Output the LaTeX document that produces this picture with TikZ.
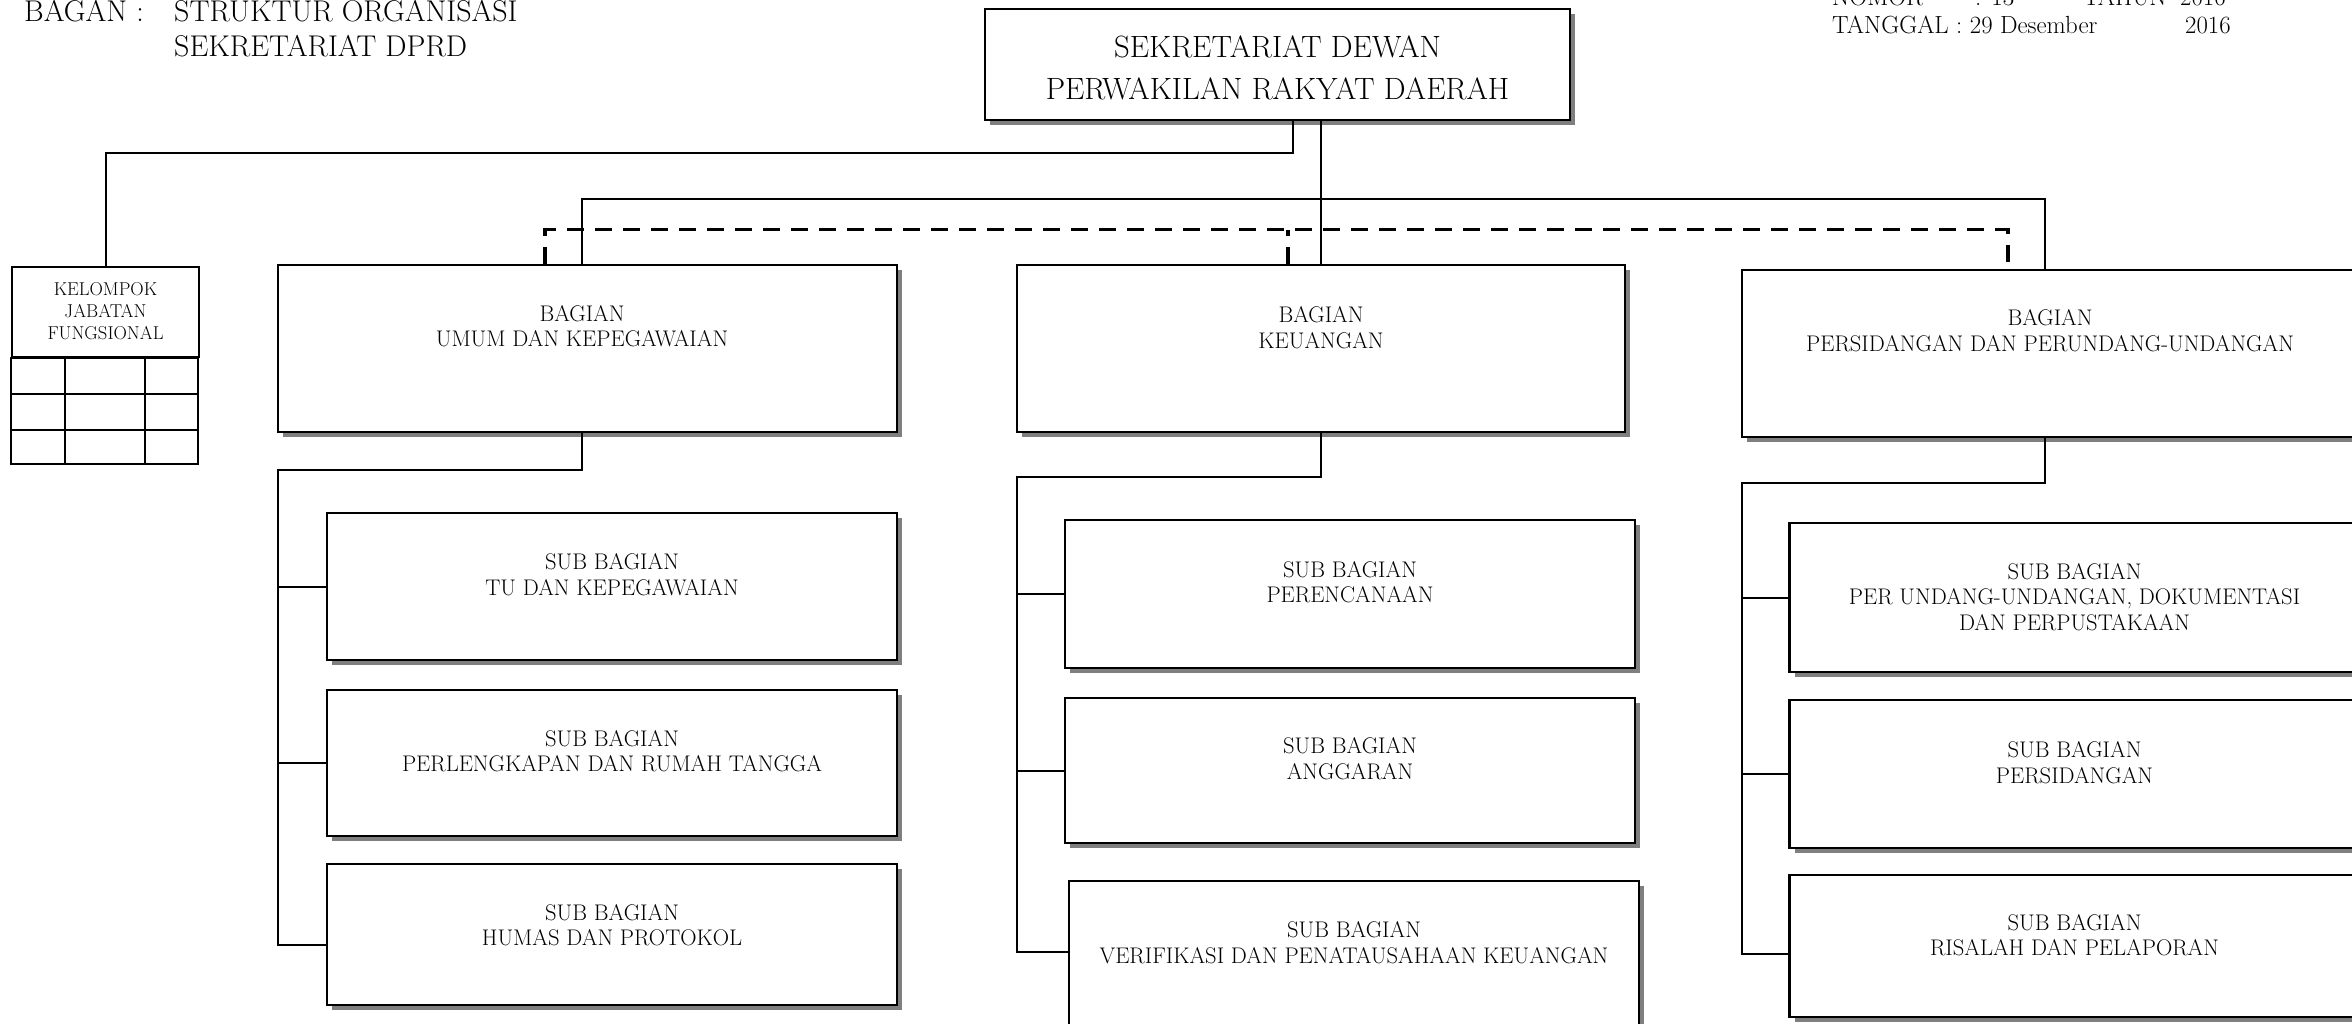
\documentclass[tikz,border=0pt]{standalone}
\usetikzlibrary{positioning, shadows}

\definecolor{shgray}{HTML}{7F7F7F}

\newcommand{\hdfont}{\fontsize{30}{35}\selectfont}
\newcommand{\nofont}{\fontsize{24.8}{28}\selectfont}
\newcommand{\topfont}{\fontsize{30.8}{42}\selectfont}
\newcommand{\unitfont}{\fontsize{22.6}{25.5}\selectfont}
\newcommand{\jfgfont}{\fontsize{18.6}{22}\selectfont}

\tikzset{
  orgbox/.style={draw, line width=2.6pt, fill=white, inner sep=0pt,
    general shadow={fill=shgray, shadow xshift=5pt, shadow yshift=-5pt}},
  bagbox/.style={orgbox, minimum height=167pt},
  subbox/.style={orgbox, minimum width=570pt},
  unittxt/.style={align=center, inner sep=0pt, font=\unitfont},
  conn/.style={line width=2pt},
  koord/.style={line width=3.5pt, dash pattern=on 17pt off 11pt},
  jfggrid/.style={line width=2pt},
  hdtxt/.style={inner sep=0pt, anchor=base west, font=\hdfont},
  notxt/.style={inner sep=0pt, anchor=base west, font=\nofont},
}

\begin{document}
\begin{tikzpicture}[x=1pt, y=-1pt]

\useasboundingbox (0,0) rectangle (2352,1023);

% === Judul bagan ===
\node[hdtxt] (bagan) at (24,21) {BAGAN :};
\node[hdtxt] (judul1) at (174,21) {STRUKTUR ORGANISASI};
\node[hdtxt] (judul2) at (174,56) {SEKRETARIAT DPRD};

% Nomor dan tanggal peraturan
\node[notxt] (nomor) at (1832,5) {NOMOR};
\node[notxt] (nomor-n) at (1975,5) {: 13};
\node[notxt] (tahun) at (2083,5) {TAHUN};
\node[notxt] (tahun-n) at (2180,5) {2016};
\node[notxt] (tgl) at (1832,33) {TANGGAL : 29 Desember};
\node[notxt] (tgl-t) at (2185,33) {2016};

% === Sekretariat ===
\node[orgbox, minimum width=585pt, minimum height=111pt] (sekwan) at (1277.5,64.5) {};
\node[unittxt, font=\topfont] (sekwan-t) at (1277.5,68)
  {SEKRETARIAT DEWAN\\PERWAKILAN RAKYAT DAERAH};

% === Kelompok jabatan fungsional ===
\node[draw, line width=2.4pt, minimum width=187pt, minimum height=90pt, inner sep=0pt]
  (jfg) at (105.5,312) {};
\node[unittxt, font=\jfgfont] (jfg-t) at (105.5,311) {KELOMPOK\\JABATAN\\FUNGSIONAL};
\draw[jfggrid] (jfg.south west) rectangle ++(187,106);
\foreach \yy in {36,72}
  \draw[jfggrid] ([yshift=-\yy pt]jfg.south west) -- ++(187,0);
\foreach \xx in {54,134}
  \draw[jfggrid] ([xshift=\xx pt]jfg.south west) -- ++(0,106);

% === Bagian ===
\node[bagbox, minimum width=619pt] (umum) at (587.5,348.5) {};
\node[unittxt] (umum-t) at (582,326) {BAGIAN\\UMUM DAN KEPEGAWAIAN};

\node[bagbox, minimum width=608pt] (keu) at (1321,348.5) {};
\node[unittxt] (keu-t) at (1321,327.5) {BAGIAN\\KEUANGAN};

\node[bagbox, minimum width=616pt] (sidang) at (2050,353.5) {};
\node[unittxt] (sidang-t) at (2050,330.5) {BAGIAN\\PERSIDANGAN DAN PERUNDANG-UNDANGAN};

% === Sub bagian umum dan kepegawaian ===
\node[subbox, minimum height=147pt] (tu) at (612,586.5) {};
\node[unittxt] (tu-t) at (612,574.5) {SUB BAGIAN\\TU DAN KEPEGAWAIAN};
\node[subbox, minimum height=146pt] (rt) at (612,763) {};
\node[unittxt] (rt-t) at (612,751) {SUB BAGIAN\\PERLENGKAPAN DAN RUMAH TANGGA};
\node[subbox, minimum height=141pt] (humas) at (612,934.5) {};
\node[unittxt] (humas-t) at (612,925) {SUB BAGIAN\\HUMAS DAN PROTOKOL};

% === Sub bagian keuangan ===
\node[subbox, minimum height=148pt] (renc) at (1350,594) {};
\node[unittxt] (renc-t) at (1350,582) {SUB BAGIAN\\PERENCANAAN};
\node[subbox, minimum height=145pt] (angg) at (1350,770.5) {};
\node[unittxt] (angg-t) at (1350,758.5) {SUB BAGIAN\\ANGGARAN};
\node[subbox, minimum height=147pt] (verif) at (1354,954.5) {};
\node[unittxt] (verif-t) at (1354,942.5) {SUB BAGIAN\\VERIFIKASI DAN PENATAUSAHAAN KEUANGAN};

% === Sub bagian persidangan ===
\node[subbox, minimum height=149pt] (perpus) at (2074.5,597.5) {};
\node[unittxt] (perpus-t) at (2074.5,597)
  {SUB BAGIAN\\PER UNDANG-UNDANGAN, DOKUMENTASI\\DAN PERPUSTAKAAN};
\node[subbox, minimum height=148pt] (psd) at (2074.5,774) {};
\node[unittxt] (psd-t) at (2074.5,762.5) {SUB BAGIAN\\PERSIDANGAN};
\node[subbox, minimum height=142pt] (risalah) at (2074.5,946) {};
\node[unittxt] (risalah-t) at (2074.5,935) {SUB BAGIAN\\RISALAH DAN PELAPORAN};

% === Garis komando ===
\draw[conn] (sekwan.south -| 1293,0) -- ++(0,32) -| (jfg.north);
\draw[conn] (sekwan.south -| keu.north) -- (keu.north);
\draw[conn] (umum.north -| umum-t) -- ++(0,-65) -| (sidang.north -| 2045,0);

% Garis koordinasi
\draw[koord] (umum.north -| 545,0) -- ++(0,-34) -| (sidang.north -| 2008,0);
\draw[koord] (keu.north -| 1288,0) -- ++(0,-34);

% Bagian ke sub bagian
\coordinate (b1) at (278,470);
\draw[conn] (umum.south -| umum-t) |- (b1) |- ([yshift=-10pt]humas.west);
\foreach \s in {tu,rt}
  \draw[conn] (b1 |- \s.west) -- (\s.west);

\coordinate (b2) at (1017,477);
\draw[conn] (keu.south) |- (b2) |- ([yshift=3pt]verif.west);
\foreach \s in {renc,angg}
  \draw[conn] (b2 |- \s.west) -- (\s.west);

\coordinate (b3) at (1742,483);
\draw[conn] (sidang.south -| 2045,0) |- (b3) |- ([yshift=-8pt]risalah.west);
\foreach \s in {perpus,psd}
  \draw[conn] (b3 |- \s.west) -- (\s.west);

\end{tikzpicture}
\end{document}
